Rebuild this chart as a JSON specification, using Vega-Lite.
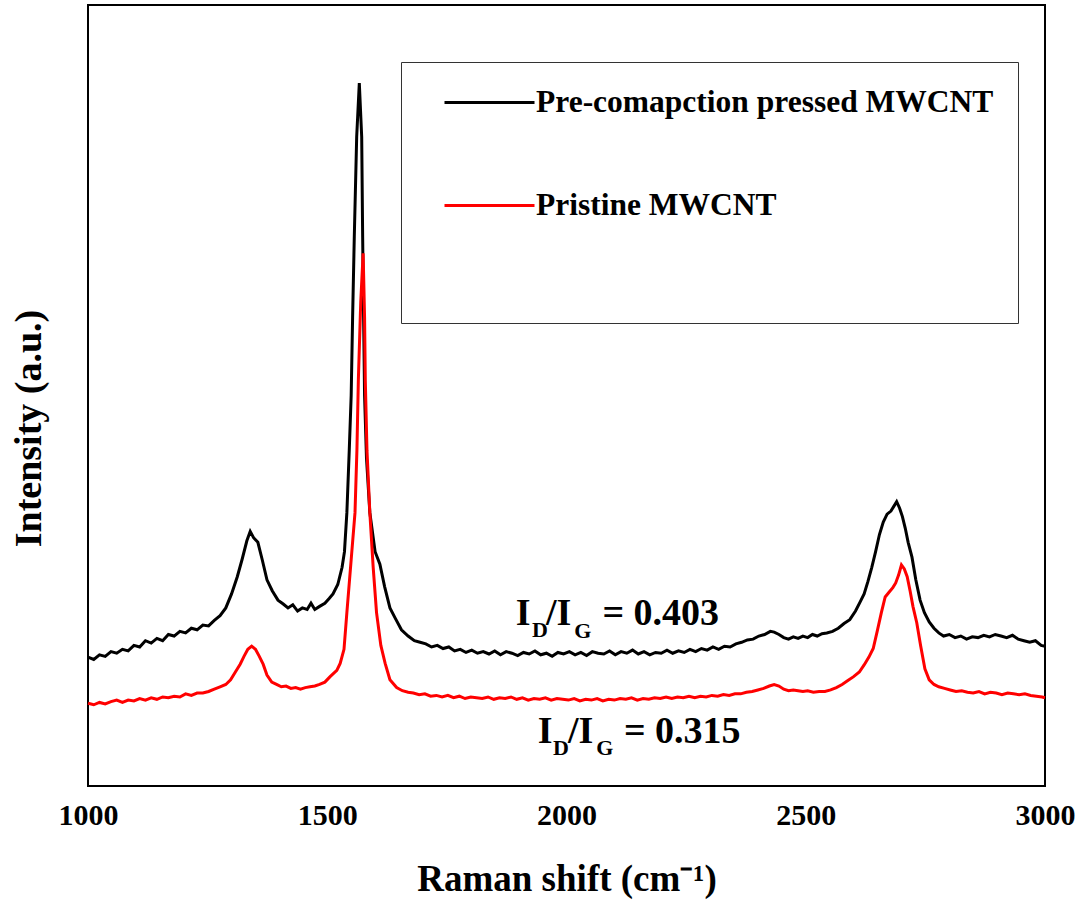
{
  "$schema": "https://vega.github.io/schema/vega-lite/v6.json",
  "autosize": {"type": "none"},
  "width": 957,
  "height": 781,
  "padding": {"left": 88, "top": 5, "right": 41, "bottom": 114},
  "background": "white",
  "config": {
    "view": {"stroke": "#000", "strokeWidth": 2},
    "font": "Liberation Serif"
  },
  "datasets": {
    "pressed": [
      {"x":1000,"y":165},{"x":1012,"y":162},{"x":1024,"y":168},{"x":1036,"y":166},{"x":1048,"y":172},{"x":1060,"y":170},{"x":1072,"y":175},{"x":1084,"y":173},{"x":1096,"y":180},{"x":1108,"y":178},{"x":1120,"y":186},{"x":1132,"y":183},{"x":1144,"y":189},{"x":1156,"y":186},{"x":1168,"y":194},{"x":1180,"y":192},{"x":1192,"y":198},{"x":1204,"y":196},{"x":1216,"y":202},{"x":1228,"y":200},{"x":1240,"y":206},{"x":1252,"y":205},{"x":1264,"y":212},{"x":1276,"y":218},{"x":1288,"y":228},{"x":1300,"y":246},{"x":1312,"y":268},{"x":1322,"y":290},{"x":1332,"y":314},{"x":1339,"y":326},{"x":1346,"y":318},{"x":1355,"y":312},{"x":1364,"y":290},{"x":1374,"y":264},{"x":1385,"y":250},{"x":1397,"y":238},{"x":1408,"y":233},{"x":1418,"y":228},{"x":1428,"y":232},{"x":1438,"y":224},{"x":1448,"y":228},{"x":1458,"y":226},{"x":1466,"y":234},{"x":1474,"y":226},{"x":1484,"y":230},{"x":1495,"y":234},{"x":1504,"y":240},{"x":1512,"y":246},{"x":1522,"y":258},{"x":1531,"y":280},{"x":1536,"y":300},{"x":1541,"y":350},{"x":1546,"y":430},{"x":1550,"y":500},{"x":1553,"y":600},{"x":1556.5,"y":703},{"x":1561.5,"y":831},{"x":1567,"y":900},{"x":1572,"y":831},{"x":1574,"y":703},{"x":1576,"y":600},{"x":1578,"y":500},{"x":1582,"y":420},{"x":1589,"y":350},{"x":1600,"y":300},{"x":1610,"y":284},{"x":1620,"y":255},{"x":1631,"y":228},{"x":1642,"y":215},{"x":1655,"y":200},{"x":1669,"y":192},{"x":1682,"y":186},{"x":1694,"y":184},{"x":1706,"y":182},{"x":1718,"y":178},{"x":1730,"y":180},{"x":1742,"y":176},{"x":1754,"y":178},{"x":1766,"y":173},{"x":1778,"y":175},{"x":1790,"y":171},{"x":1802,"y":174},{"x":1814,"y":170},{"x":1826,"y":172},{"x":1838,"y":169},{"x":1850,"y":173},{"x":1862,"y":168},{"x":1874,"y":172},{"x":1886,"y":170},{"x":1898,"y":167},{"x":1910,"y":171},{"x":1922,"y":169},{"x":1934,"y":173},{"x":1946,"y":168},{"x":1958,"y":170},{"x":1970,"y":166},{"x":1982,"y":171},{"x":1994,"y":169},{"x":2006,"y":172},{"x":2018,"y":168},{"x":2030,"y":171},{"x":2042,"y":167},{"x":2054,"y":172},{"x":2066,"y":170},{"x":2078,"y":169},{"x":2090,"y":173},{"x":2102,"y":168},{"x":2114,"y":172},{"x":2126,"y":170},{"x":2138,"y":174},{"x":2150,"y":169},{"x":2162,"y":172},{"x":2174,"y":168},{"x":2186,"y":171},{"x":2198,"y":170},{"x":2210,"y":174},{"x":2222,"y":170},{"x":2234,"y":173},{"x":2246,"y":171},{"x":2258,"y":175},{"x":2270,"y":172},{"x":2282,"y":176},{"x":2294,"y":174},{"x":2306,"y":178},{"x":2318,"y":175},{"x":2330,"y":179},{"x":2342,"y":178},{"x":2354,"y":182},{"x":2366,"y":184},{"x":2378,"y":187},{"x":2390,"y":188},{"x":2402,"y":192},{"x":2414,"y":194},{"x":2426,"y":198},{"x":2434,"y":197},{"x":2444,"y":194},{"x":2454,"y":190},{"x":2464,"y":188},{"x":2474,"y":191},{"x":2484,"y":189},{"x":2494,"y":192},{"x":2504,"y":190},{"x":2514,"y":194},{"x":2524,"y":192},{"x":2534,"y":195},{"x":2544,"y":196},{"x":2556,"y":198},{"x":2568,"y":202},{"x":2580,"y":208},{"x":2592,"y":213},{"x":2604,"y":224},{"x":2614,"y":236},{"x":2622,"y":246},{"x":2630,"y":262},{"x":2638,"y":280},{"x":2646,"y":300},{"x":2654,"y":322},{"x":2662,"y":338},{"x":2670,"y":348},{"x":2678,"y":352},{"x":2684,"y":358},{"x":2690,"y":364},{"x":2696,"y":356},{"x":2702,"y":345},{"x":2708,"y":330},{"x":2714,"y":312},{"x":2722,"y":293},{"x":2730,"y":264},{"x":2739,"y":238},{"x":2748,"y":222},{"x":2758,"y":210},{"x":2768,"y":202},{"x":2778,"y":196},{"x":2788,"y":192},{"x":2800,"y":194},{"x":2812,"y":190},{"x":2824,"y":192},{"x":2836,"y":188},{"x":2848,"y":191},{"x":2860,"y":190},{"x":2872,"y":193},{"x":2884,"y":191},{"x":2896,"y":194},{"x":2908,"y":192},{"x":2920,"y":190},{"x":2932,"y":193},{"x":2944,"y":188},{"x":2956,"y":186},{"x":2968,"y":184},{"x":2980,"y":186},{"x":2992,"y":180},{"x":3000,"y":179}
    ],
    "pristine": [
      {"x":1000,"y":106},{"x":1012,"y":104},{"x":1024,"y":107},{"x":1036,"y":105},{"x":1048,"y":108},{"x":1060,"y":110},{"x":1072,"y":107},{"x":1084,"y":110},{"x":1096,"y":109},{"x":1108,"y":112},{"x":1120,"y":110},{"x":1132,"y":113},{"x":1144,"y":111},{"x":1156,"y":114},{"x":1168,"y":113},{"x":1180,"y":115},{"x":1192,"y":114},{"x":1204,"y":118},{"x":1216,"y":116},{"x":1228,"y":119},{"x":1240,"y":119},{"x":1252,"y":121},{"x":1264,"y":124},{"x":1276,"y":127},{"x":1288,"y":130},{"x":1298,"y":136},{"x":1308,"y":146},{"x":1318,"y":156},{"x":1326,"y":166},{"x":1334,"y":175},{"x":1342,"y":179},{"x":1350,"y":175},{"x":1358,"y":166},{"x":1366,"y":156},{"x":1374,"y":142},{"x":1384,"y":133},{"x":1394,"y":130},{"x":1404,"y":127},{"x":1414,"y":128},{"x":1424,"y":125},{"x":1434,"y":126},{"x":1444,"y":124},{"x":1454,"y":126},{"x":1464,"y":127},{"x":1474,"y":128},{"x":1484,"y":130},{"x":1495,"y":133},{"x":1506,"y":140},{"x":1520,"y":148},{"x":1527,"y":157},{"x":1535,"y":175},{"x":1541,"y":222},{"x":1550,"y":290},{"x":1558,"y":350},{"x":1562,"y":430},{"x":1565,"y":520},{"x":1570,"y":620},{"x":1575,"y":682},{"x":1578,"y":600},{"x":1579.5,"y":520},{"x":1583,"y":430},{"x":1589,"y":350},{"x":1596,"y":280},{"x":1603,"y":222},{"x":1612,"y":180},{"x":1621,"y":157},{"x":1631,"y":136},{"x":1645,"y":126},{"x":1657,"y":122},{"x":1669,"y":120},{"x":1680,"y":119},{"x":1692,"y":117},{"x":1704,"y":118},{"x":1716,"y":115},{"x":1728,"y":116},{"x":1740,"y":114},{"x":1752,"y":116},{"x":1764,"y":113},{"x":1776,"y":115},{"x":1788,"y":112},{"x":1800,"y":114},{"x":1812,"y":113},{"x":1824,"y":112},{"x":1836,"y":114},{"x":1848,"y":111},{"x":1860,"y":113},{"x":1872,"y":112},{"x":1884,"y":114},{"x":1896,"y":111},{"x":1908,"y":113},{"x":1920,"y":110},{"x":1932,"y":112},{"x":1944,"y":111},{"x":1956,"y":113},{"x":1968,"y":110},{"x":1980,"y":112},{"x":1992,"y":111},{"x":2004,"y":110},{"x":2016,"y":112},{"x":2028,"y":109},{"x":2040,"y":111},{"x":2052,"y":110},{"x":2064,"y":112},{"x":2076,"y":109},{"x":2088,"y":111},{"x":2100,"y":110},{"x":2112,"y":112},{"x":2124,"y":111},{"x":2136,"y":113},{"x":2148,"y":110},{"x":2160,"y":112},{"x":2172,"y":111},{"x":2184,"y":113},{"x":2196,"y":112},{"x":2208,"y":114},{"x":2220,"y":112},{"x":2232,"y":114},{"x":2244,"y":113},{"x":2256,"y":115},{"x":2268,"y":113},{"x":2280,"y":115},{"x":2292,"y":114},{"x":2304,"y":116},{"x":2316,"y":115},{"x":2328,"y":117},{"x":2340,"y":116},{"x":2352,"y":118},{"x":2364,"y":118},{"x":2376,"y":120},{"x":2388,"y":121},{"x":2400,"y":123},{"x":2412,"y":125},{"x":2424,"y":128},{"x":2434,"y":130},{"x":2444,"y":128},{"x":2454,"y":124},{"x":2464,"y":122},{"x":2474,"y":123},{"x":2484,"y":122},{"x":2494,"y":121},{"x":2504,"y":122},{"x":2516,"y":120},{"x":2528,"y":121},{"x":2540,"y":121},{"x":2552,"y":123},{"x":2564,"y":126},{"x":2576,"y":130},{"x":2588,"y":135},{"x":2600,"y":140},{"x":2612,"y":146},{"x":2622,"y":155},{"x":2632,"y":165},{"x":2641,"y":176},{"x":2650,"y":200},{"x":2658,"y":222},{"x":2666,"y":242},{"x":2674,"y":248},{"x":2682,"y":254},{"x":2688,"y":260},{"x":2694,"y":270},{"x":2700,"y":283},{"x":2706,"y":278},{"x":2712,"y":268},{"x":2718,"y":250},{"x":2724,"y":230},{"x":2732,"y":209},{"x":2740,"y":180},{"x":2749,"y":150},{"x":2758,"y":136},{"x":2768,"y":130},{"x":2778,"y":127},{"x":2790,"y":125},{"x":2802,"y":123},{"x":2814,"y":121},{"x":2826,"y":122},{"x":2838,"y":120},{"x":2850,"y":119},{"x":2862,"y":121},{"x":2874,"y":118},{"x":2886,"y":120},{"x":2898,"y":119},{"x":2910,"y":117},{"x":2922,"y":119},{"x":2934,"y":118},{"x":2946,"y":117},{"x":2958,"y":118},{"x":2970,"y":116},{"x":2982,"y":115},{"x":2994,"y":114},{"x":3000,"y":113}
    ],
    "labels": [
      {"x":1894,"y":206,"t":"I","k":"main"},
      {"x":1957,"y":206,"t":"/I","k":"main"},
      {"x":2075,"y":206,"t":"= 0.403","k":"main"},
      {"x":1928,"y":191,"t":"D","k":"sub"},
      {"x":2016,"y":190,"t":"G","k":"sub"},
      {"x":1940,"y":55,"t":"I","k":"main"},
      {"x":2003,"y":55,"t":"/I","k":"main"},
      {"x":2120,"y":55,"t":"= 0.315","k":"main"},
      {"x":1972,"y":40,"t":"D","k":"sub"},
      {"x":2062,"y":40,"t":"G","k":"sub"}
    ]
  },
  "encoding": {
    "x": {
      "field": "x", "type": "quantitative",
      "scale": {"domain": [1000, 3000], "nice": false, "zero": false},
      "axis": {
        "title": "Raman shift (cm⁻¹)",
        "values": [1000, 1500, 2000, 2500, 3000],
        "format": "d",
        "grid": false, "ticks": false, "domain": false,
        "labelFlush": false, "labelOverlap": false, "labelBound": false,
        "labelFont": "Liberation Serif", "labelFontWeight": "bold", "labelFontSize": 30, "labelColor": "#000",
        "labelPadding": 14,
        "titleFont": "Liberation Serif", "titleFontWeight": "bold", "titleFontSize": 37, "titleColor": "#000",
        "titlePadding": 31
      }
    },
    "y": {
      "field": "y", "type": "quantitative",
      "scale": {"domain": [0, 1000], "nice": false, "zero": false},
      "axis": {
        "title": "Intensity (a.u.)",
        "labels": false, "grid": false, "ticks": false, "domain": false,
        "titleFont": "Liberation Serif", "titleFontWeight": "bold", "titleFontSize": 38, "titleColor": "#000",
        "titlePadding": 40, "titleY": 423
      }
    }
  },
  "layer": [
    {
      "data": {"name": "pressed"},
      "mark": {"type": "line", "strokeWidth": 3, "interpolate": "linear"},
      "encoding": {
        "color": {
          "datum": "Pre-comapction pressed MWCNT",
          "type": "nominal",
          "scale": {"domain": ["Pre-comapction pressed MWCNT", "Pristine MWCNT"], "range": ["#000000", "#ff0000"]},
          "legend": {
            "orient": "none", "legendX": 313, "legendY": 57,
            "title": " ", "titleOrient": "bottom", "titleFontSize": 40, "titlePadding": 38,
            "strokeColor": "#333333", "padding": 24,
            "symbolType": "M-3,0H3", "symbolSize": 900, "symbolStrokeWidth": 3, "symbolOffset": 48,
            "labelFont": "Liberation Serif", "labelFontWeight": "bold", "labelFontSize": 31.5, "labelColor": "#000",
            "labelOffset": 30, "labelLimit": 1000, "rowPadding": 71
          }
        }
      }
    },
    {
      "data": {"name": "pristine"},
      "mark": {"type": "line", "strokeWidth": 3, "interpolate": "linear"},
      "encoding": {
        "color": {"datum": "Pristine MWCNT", "type": "nominal"}
      }
    },
    {
      "data": {"name": "labels"},
      "transform": [{"filter": "datum.k === 'main'"}],
      "mark": {"type": "text", "align": "left", "baseline": "alphabetic", "font": "Liberation Serif", "fontWeight": "bold", "fontSize": 38, "color": "#000"},
      "encoding": {"text": {"field": "t"}}
    },
    {
      "data": {"name": "labels"},
      "transform": [{"filter": "datum.k === 'sub'"}],
      "mark": {"type": "text", "align": "left", "baseline": "alphabetic", "font": "Liberation Serif", "fontWeight": "bold", "fontSize": 22, "color": "#000"},
      "encoding": {"text": {"field": "t"}}
    }
  ]
}
